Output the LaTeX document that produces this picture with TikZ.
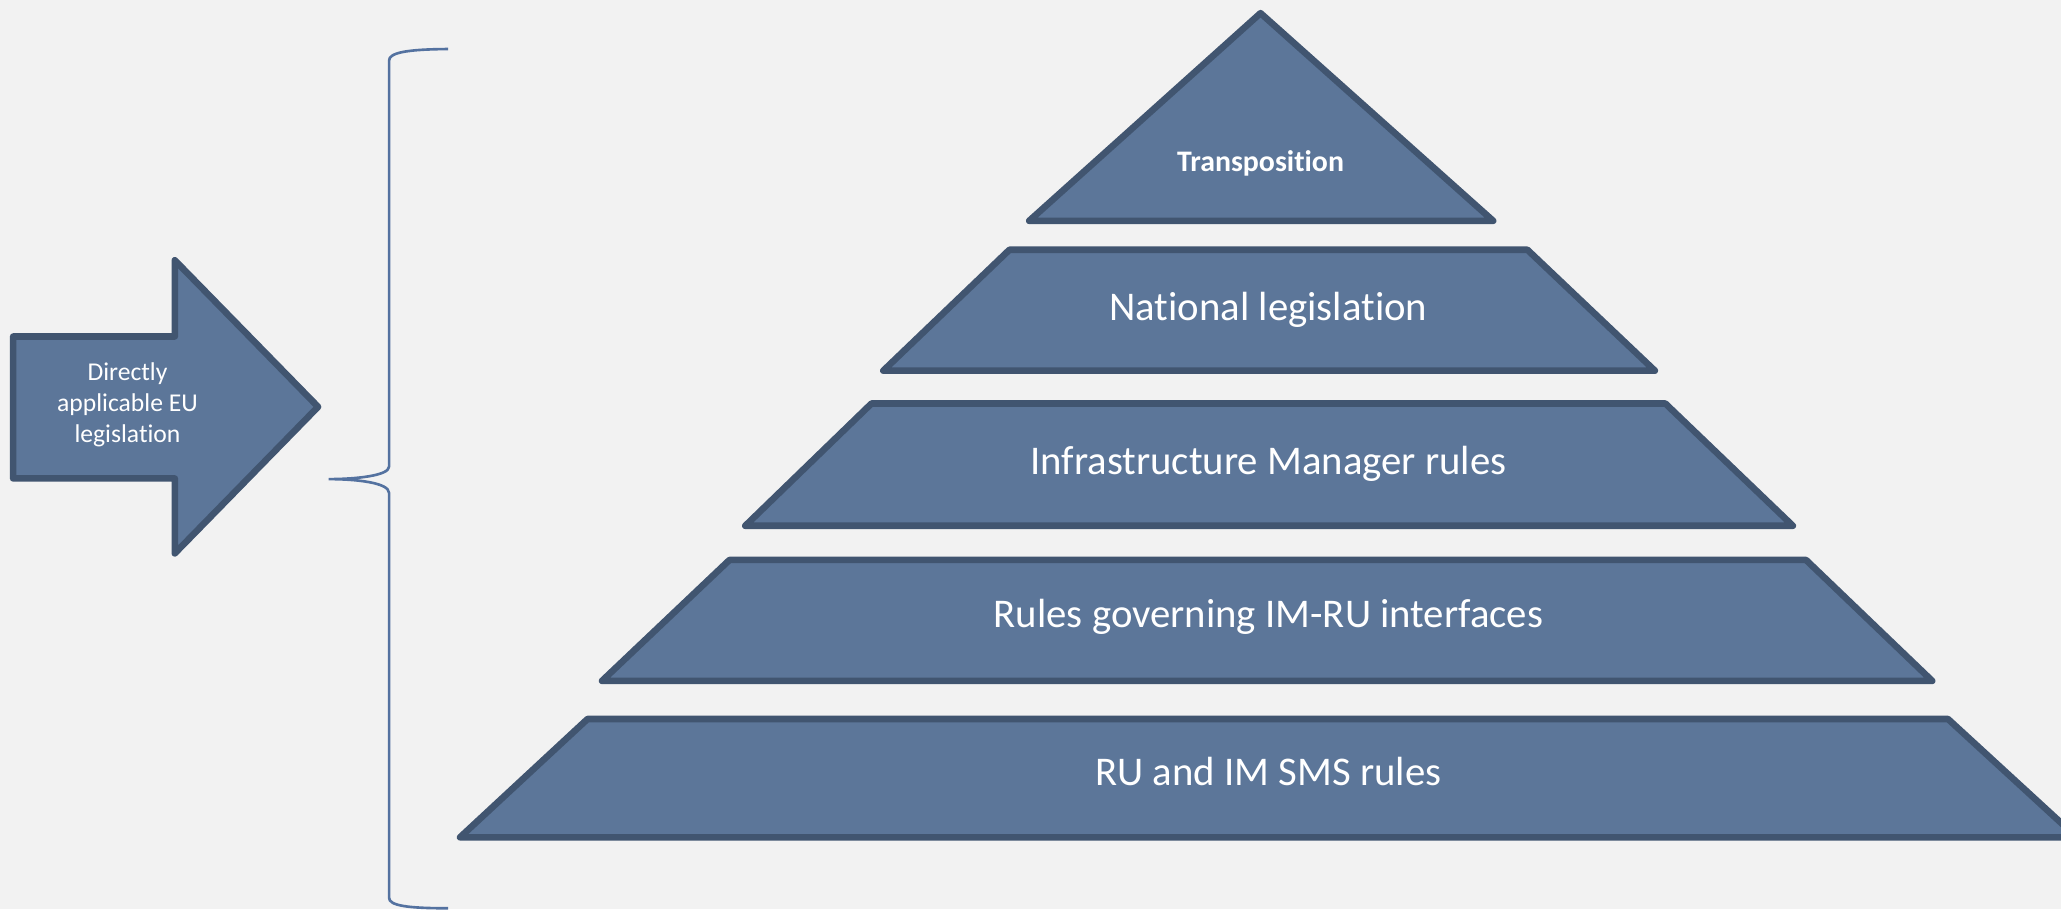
\documentclass[tikz,border=0pt]{standalone}
\usepackage{fontspec}
\setmainfont[Ligatures=NoCommon]{Carlito}
\definecolor{bg}{HTML}{F2F2F2}
\definecolor{fillc}{HTML}{5C7699}
\definecolor{edgec}{HTML}{415570}
\definecolor{bracec}{HTML}{5472A0}
\begin{document}
\begin{tikzpicture}[x=1pt,y=-1pt,
  tier/.style={fill=fillc,draw=edgec,line width=5pt,line join=round},
  lbl/.style={text=white,font=\fontsize{31}{37}\selectfont,inner sep=0pt},
  toplbl/.style={text=white,font=\fontsize{22.7}{27}\selectfont\bfseries,inner sep=0pt},
  arrlbl/.style={text=white,font=\fontsize{19.5}{23.8}\selectfont,align=center,inner sep=0pt},
  bracestyle/.style={draw=bracec,line width=2pt}]
\useasboundingbox (0,0) rectangle (1568,691.6);
\fill[bg] (0,0) rectangle (1568,691.6);
\begin{scope}
\clip (0,0) rectangle (1568,691.6);
% pyramid tiers
\draw[tier] (959,10) -- (1136,168) -- (783,168) -- cycle;
\draw[tier] (768,190) -- (1162,190) -- (1259,282) -- (672,282) -- cycle;
\draw[tier] (663,307) -- (1267,307) -- (1364,400) -- (567,400) -- cycle;
\draw[tier] (555,426) -- (1374,426) -- (1470,518) -- (458,518) -- cycle;
\draw[tier] (447,547) -- (1482,547) -- (1580,637) -- (350,637) -- cycle;
\end{scope}
\node[toplbl] (t0) at (959,124) {Transposition};
\node[lbl] (t1) at (965,236) {National legislation};
\node[lbl] (t2) at (965,353) {Infrastructure Manager rules};
\node[lbl] (t3) at (965,469) {Rules governing IM-RU interfaces};
\node[lbl] (t4) at (965,587) {RU and IM SMS rules};
% arrow
\draw[tier] (10,256) -- (133,256) -- (133,198) -- (242,309.5) -- (133,421) -- (133,364) -- (10,364) -- cycle;
\node[arrlbl] (arr) at (97,308) {Directly\\applicable EU\\legislation};
% brace
\draw[bracestyle] (341,37.3) .. controls (310,37.5) and (296,40) .. (296,46) -- (296,355)
  .. controls (296,362) and (270,364.5) .. (250,364.5)
  .. controls (270,364.5) and (296,367) .. (296,375) -- (296,683)
  .. controls (296,689) and (310,691) .. (341,691);
\end{tikzpicture}
\end{document}
